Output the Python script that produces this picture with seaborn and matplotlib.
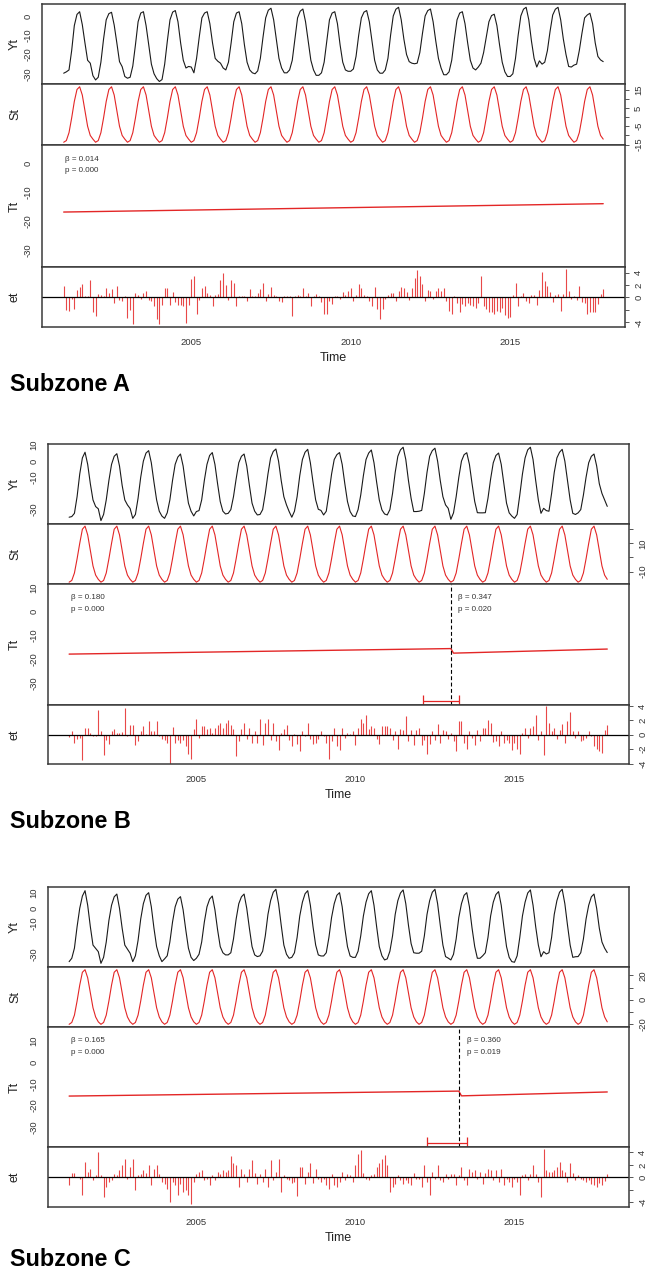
import matplotlib
matplotlib.use("Agg")
import matplotlib.pyplot as plt
import numpy as np
import seaborn as sns

W, H = 646, 1269

YEARS = list(range(2001, 2018))
XTICKS = [2005, 2010, 2015]
XLIM = (2000.32, 2018.6)

# ---------------- Subzone A ----------------
YT_A = [
    -29.7, -29.0, -28.0, -18.0, -5.0, 0.8, 2.2, -4.5, -14.0, -23.0, -24.5, -31.0,
    -33.2, -31.8, -24.0, -12.0, -2.0, 1.2, 1.9, -4.7, -14.0, -23.7, -26.3, -31.4,
    -32.3, -31.8, -26.0, -15.0, -3.0, 1.5, 2.2, -5.0, -15.0, -25.0, -30.0, -32.5,
    -34.0, -33.0, -25.0, -13.0, -2.0, 2.0, 2.8, -3.0, -14.0, -23.0, -27.0, -26.2,
    -26.5, -29.5, -22.0, -11.0, -1.0, 1.5, 2.2, -4.0, -14.0, -22.0, -23.5, -24.5,
    -27.0, -28.0, -24.0, -14.0, -3.0, 1.5, 2.2, -4.0, -15.0, -24.0, -28.0, -29.5,
    -30.0, -28.5, -22.0, -11.0, -1.0, 3.0, 4.0, -2.0, -12.0, -22.0, -27.0, -29.5,
    -29.5, -28.0, -23.0, -12.0, -1.0, 2.5, 3.6, -3.0, -13.0, -23.0, -28.0, -30.8,
    -30.8, -29.5, -24.0, -13.0, -2.0, 1.5, 2.2, -4.0, -15.0, -24.0, -28.0, -28.7,
    -28.7, -27.5, -21.0, -10.0, -1.0, 2.0, 2.8, -3.0, -13.0, -23.0, -28.0, -29.7,
    -29.7, -28.0, -22.0, -10.0, 0.0, 3.5, 4.5, -2.0, -12.0, -20.0, -23.7, -24.5,
    -24.8, -24.5, -19.0, -9.0, 0.0, 2.8, 3.6, -3.0, -13.0, -22.0, -27.0, -30.5,
    -30.5, -29.0, -23.0, -12.0, -2.0, 1.5, 2.2, -4.0, -14.0, -23.0, -27.0, -28.0,
    -26.5, -24.5, -19.0, -11.0, -3.0, 0.2, 0.9, -5.0, -15.0, -24.0, -29.0, -31.4,
    -31.4, -30.0, -22.0, -10.0, 0.0, 3.5, 4.5, -2.0, -13.0, -22.0, -26.5, -23.3,
    -25.0, -24.0, -18.0, -8.0, 0.5, 3.5, 4.5, -2.0, -12.0, -20.0, -26.2, -26.5,
    -25.5, -25.0, -18.0, -9.0, -1.0, 0.5, 1.4, -4.0, -14.0, -21.0, -22.8, -23.7,
]
ST_A = [-13.7, -12.8, -8.5, -0.5, 8.5, 15.0, 16.5, 12.0, 3.5, -5.0, -10.0, -12.0]
TT_A_X = [2001.0, 2017.917]
TT_A_Y = [-16.9, -14.0]
ET_A = [
    1.8, -2.0, -2.2, -0.3, -1.8, 1.2, 1.7, 2.1, 0.3, 0.3, 2.8, -2.4,
    -3.0, 0.6, 0.4, 0.2, 1.6, 0.8, 1.3, -0.9, 1.9, -0.4, -0.6, 0.3,
    -3.3, -2.0, -4.3, 0.7, 0.4, -0.3, 0.8, 1.0, -0.4, -0.6, -1.4, -3.5,
    -4.3, -1.2, 1.5, 1.6, -1.2, 0.9, -0.8, -1.2, -1.2, -1.3, -4.1, -1.2,
    2.9, 3.4, -2.7, -0.4, 1.5, 1.8, 0.7, 0.4, -1.3, 0.4, 0.6, 2.8,
    4.0, 2.0, -0.4, 2.8, 2.4, -1.4, 0.2, 0.3, 0.2, -0.5, 1.3, 0.2,
    0.2, 0.7, 1.3, 2.3, -0.6, 0.6, 1.7, 0.4, 0.2, -0.5, -0.8, 0.2,
    0.2, 0.2, -2.9, 0.2, 0.4, 0.3, 1.5, 0.2, 0.7, -1.4, 0.2, 0.6,
    0.2, -0.7, -2.7, -2.7, -0.5, -1.0, 0.3, 0.2, -0.3, 0.9, 0.4, 1.1,
    1.6, -0.6, 0.4, 2.2, 1.6, 0.4, 0.3, -0.6, -1.3, 1.7, -1.9, -3.4,
    -1.9, -0.3, 0.4, 0.8, 0.8, -0.5, 1.0, 1.7, 1.5, 0.9, -0.4, 1.5,
    3.2, 4.4, 3.4, 2.1, -0.5, 1.2, 1.0, -0.3, 1.0, 1.6, 1.0, 1.6,
    -0.6, -2.1, -2.7, 0.2, -0.9, -2.4, -1.1, -1.3, -0.9, -1.2, -1.4, -1.7,
    -0.9, 3.5, -1.4, -1.9, -2.4, -2.4, -2.6, -2.2, -2.4, -1.7, -2.8, -3.3,
    -3.1, 0.4, 2.3, -1.4, 0.2, 0.8, -0.6, -0.9, 0.4, 0.4, -1.2, 1.2,
    4.1, 2.6, 1.9, 0.9, -0.7, 0.4, 0.6, -2.2, 0.6, 4.5, 1.0, -0.3,
    0.3, -0.4, 1.8, -0.8, -0.9, -2.7, -2.4, -2.4, -2.3, -1.0, 0.6, 1.4,
]
STATS_A = [(2001.05, "\u03b2 = 0.014", "p = 0.000")]
BREAK_A = None

# ---------------- Subzone B ----------------
YT_B = [
    -34.7, -34.3, -32.3, -22.0, -8.0, 2.0, 5.5, -2.0, -14.0, -24.0, -28.1, -29.5,
    -36.8, -33.0, -24.0, -12.0, -2.0, 3.0, 4.6, -3.0, -15.0, -24.0, -27.1, -29.3,
    -35.4, -33.0, -23.0, -10.0, 0.0, 5.0, 6.5, -1.0, -13.0, -24.0, -31.0, -34.0,
    -35.4, -32.0, -24.0, -12.0, -2.0, 2.5, 4.4, -3.0, -15.0, -26.0, -31.0, -33.9,
    -31.2, -30.6, -24.0, -12.0, -2.0, 3.5, 5.3, -2.0, -14.0, -25.0, -31.0, -32.7,
    -32.3, -30.0, -22.0, -11.0, -1.0, 3.0, 4.4, -3.0, -15.0, -26.0, -31.0, -33.3,
    -33.0, -30.0, -20.0, -8.0, 2.0, 6.0, 7.5, 0.0, -12.0, -22.0, -27.1, -31.2,
    -34.7, -31.0, -22.0, -9.0, 1.0, 5.5, 7.3, -1.0, -13.0, -24.0, -29.8, -30.5,
    -33.3, -31.0, -20.0, -8.0, 1.0, 4.0, 5.3, -2.0, -14.0, -25.0, -31.2, -33.9,
    -34.3, -30.0, -21.0, -9.0, 1.0, 5.0, 6.9, -1.0, -13.0, -24.0, -30.2, -32.7,
    -33.3, -30.0, -20.0, -7.0, 3.0, 7.0, 8.6, 1.0, -12.0, -23.0, -31.2, -31.2,
    -31.0, -30.5, -20.0, -7.0, 3.0, 6.5, 8.0, 0.0, -12.0, -22.0, -27.1, -29.2,
    -36.0, -32.0, -22.0, -10.0, 0.0, 4.0, 5.2, -2.0, -14.0, -25.0, -31.9, -32.0,
    -32.0, -31.9, -23.0, -11.0, -1.0, 3.5, 5.0, -2.0, -14.0, -26.0, -32.0, -34.0,
    -35.4, -33.0, -21.0, -8.0, 2.0, 7.0, 8.6, 1.0, -12.0, -24.0, -32.3, -29.2,
    -30.6, -31.0, -20.0, -7.0, 2.0, 5.5, 7.3, 0.0, -12.0, -24.0, -32.3, -33.0,
    -32.0, -30.0, -21.0, -10.0, -1.0, 3.0, 4.4, -3.0, -14.0, -20.0, -24.0, -28.0,
]
ST_B = [-17.5, -16.3, -11.0, -1.0, 10.0, 20.0, 22.2, 16.0, 5.0, -6.0, -12.5, -15.5]
TT_B_X = [2001.0, 2013.0, 2013.083, 2017.917]
TT_B_Y = [-17.8, -15.5, -17.4, -15.7]
ET_B = [
    -0.3, 0.6, -1.2, -0.6, -0.5, -3.5, 0.9, 0.9, 0.2, -0.2, -0.2, 3.5,
    0.5, -2.8, -0.7, -1.3, 0.6, 0.8, 0.2, 0.2, 0.4, 3.7, -0.2, 1.4,
    1.3, -1.4, -0.9, 0.5, 1.2, 0.1, 1.9, 0.5, 0.6, 1.9, -0.2, -0.6,
    -0.7, -1.2, -4.0, 1.1, -1.2, -0.7, -1.2, -0.7, -1.6, -2.6, -3.3, 0.8,
    2.2, -0.5, 1.2, 1.2, 0.8, 0.9, 0.2, 1.0, 1.3, 1.6, 0.9, 1.7,
    2.0, 1.3, 0.8, -3.0, -0.9, 0.8, 1.6, -0.6, 0.9, -1.1, 0.5, -1.1,
    2.2, -1.4, 1.6, 2.2, -0.7, 1.6, -0.9, -2.1, 0.3, 0.8, 1.3, -0.7,
    -1.6, 0.1, -1.3, -2.3, 0.5, -0.1, 1.6, -0.6, -1.3, -1.2, -0.6, 0.5,
    -0.2, -1.2, -3.3, -0.9, 0.9, -1.5, -2.1, 0.9, -0.5, 0.2, 0.1, 0.5,
    -1.4, 0.9, 2.2, 1.7, 2.8, 0.8, 1.2, 0.9, -0.6, -1.3, 1.2, 1.2,
    1.2, 0.9, -0.7, 0.5, -2.0, 0.8, 0.7, 2.6, -0.9, 0.7, -1.4, 0.7,
    0.9, -1.4, -0.7, -2.6, -1.3, 0.6, -0.7, 1.5, -1.2, 0.7, 0.5, -0.6,
    0.2, -0.9, -2.3, 1.9, 1.9, -1.2, -1.9, 0.5, -0.5, -1.4, 0.7, -0.8,
    0.9, 0.9, 2.1, 1.6, -1.0, -0.8, -1.6, 0.5, -1.2, -0.7, -1.2, -2.1,
    -1.2, -1.9, -2.6, 0.2, 0.9, -0.5, 0.9, 1.2, 2.8, -0.7, 0.6, -2.8,
    4.0, 1.6, 0.5, 0.9, -0.6, 0.7, 1.5, -1.2, 1.9, 3.1, 0.5, -0.5,
    0.5, -0.9, -0.7, -0.5, 0.5, -0.2, -1.6, -1.9, -2.3, -2.5, 0.7, 1.3,
]
STATS_B = [(2001.05, "\u03b2 = 0.180", "p = 0.000"),
           (2013.23, "\u03b2 = 0.347", "p = 0.020")]
BREAK_B = (2013.0, 2012.13, 2013.26)

# ---------------- Subzone C ----------------
YT_C = [
    -34.8, -32.6, -26.0, -12.0, 0.0, 8.0, 11.5, 2.0, -12.0, -24.0, -26.1, -28.3,
    -35.9, -32.0, -22.0, -8.0, 2.0, 7.5, 9.3, 0.0, -13.0, -24.0, -26.7, -29.3,
    -34.8, -31.0, -21.0, -7.0, 3.0, 8.5, 10.2, 1.0, -13.0, -25.0, -31.0, -34.8,
    -33.0, -31.0, -22.0, -9.0, 1.0, 6.0, 7.6, -1.0, -14.0, -26.0, -32.0, -34.1,
    -32.6, -30.0, -22.0, -9.0, 1.0, 6.0, 8.0, -1.0, -14.0, -25.0, -29.0, -30.4,
    -30.4, -29.0, -20.0, -7.0, 3.0, 7.5, 9.3, 0.0, -13.0, -25.0, -30.4, -31.5,
    -31.0, -28.0, -18.0, -4.0, 5.0, 10.5, 12.4, 3.0, -11.0, -24.0, -30.0, -32.6,
    -32.0, -29.0, -19.0, -5.0, 4.0, 9.5, 11.5, 2.0, -12.0, -24.0, -30.4, -31.1,
    -31.1, -29.0, -19.0, -6.0, 3.0, 8.5, 10.2, 1.0, -13.0, -25.0, -31.1, -32.0,
    -32.0, -28.0, -18.0, -5.0, 4.0, 9.5, 11.5, 2.0, -12.0, -25.0, -31.0, -33.7,
    -33.0, -28.0, -18.0, -4.0, 5.0, 10.0, 12.0, 3.0, -11.0, -23.0, -29.0, -29.3,
    -29.3, -28.0, -18.0, -4.0, 5.0, 10.5, 12.4, 3.0, -11.0, -24.0, -31.5, -32.5,
    -33.7, -30.0, -20.0, -6.0, 3.0, 8.5, 10.2, 1.0, -13.0, -25.0, -32.6, -32.6,
    -31.0, -29.0, -19.0, -5.0, 4.0, 9.0, 10.9, 2.0, -12.0, -25.0, -32.0, -34.8,
    -35.2, -31.0, -19.0, -5.0, 4.0, 10.0, 12.0, 2.0, -12.0, -24.0, -31.6, -28.3,
    -29.8, -29.0, -19.0, -4.0, 5.0, 10.5, 12.4, 3.0, -11.0, -24.0, -32.0, -31.6,
    -31.5, -29.0, -20.0, -7.0, 2.0, 7.5, 9.3, 0.0, -13.0, -22.0, -26.0, -28.9,
]
ST_C = [-20.0, -18.5, -12.5, -1.0, 12.0, 22.5, 24.6, 18.0, 6.0, -6.5, -14.0, -18.0]
TT_C_X = [2001.0, 2013.25, 2013.333, 2017.917]
TT_C_Y = [-15.6, -13.3, -15.5, -13.7]
ET_C = [
    -1.2, 0.7, 0.7, 0.0, -0.2, -2.9, 2.4, 0.8, 1.4, -0.5, 0.3, 4.1,
    0.3, -3.2, -1.6, -0.8, -0.4, 0.6, 0.3, 1.1, 1.9, 2.9, -0.2, 1.6,
    3.0, -2.1, 0.4, 0.5, 1.1, 0.7, 1.9, -1.3, 1.3, 1.9, 0.5, -0.8,
    -1.1, -1.9, -4.0, -0.7, -1.3, -2.9, -1.1, -2.4, -2.0, -2.9, -4.3, -0.8,
    0.5, 0.8, 1.1, -0.4, -0.3, -1.3, 0.3, -0.4, 0.9, 0.6, 1.1, 0.9,
    1.1, 3.4, 2.3, 2.0, -1.6, 1.3, 0.5, -0.8, 1.3, 2.8, 0.7, -1.1,
    0.5, -0.8, 1.3, -1.6, 2.8, -0.5, 0.8, 2.9, -2.4, 0.3, -0.3, -0.5,
    -0.9, -0.7, -3.0, 1.7, 1.6, -1.1, 0.8, 2.3, -0.9, 1.3, -0.3, -0.8,
    -0.3, -1.2, -1.9, 0.5, -1.3, -1.6, -0.8, 0.9, -0.5, 0.5, 0.3, -0.8,
    1.9, 3.7, 4.3, 0.7, -0.3, -0.5, 0.3, 0.5, 1.7, 2.3, 2.9, 3.5,
    1.9, -2.4, -1.6, -1.1, 0.4, -0.4, -1.1, -0.5, -0.9, -1.3, 0.7, -0.3,
    -0.3, -1.6, 1.9, -0.8, -2.9, 0.8, -0.3, 1.9, -0.5, -0.8, 0.6, -0.3,
    0.5, 0.6, -1.2, 0.3, 1.6, -0.4, -1.3, 1.3, 0.9, 1.1, -0.3, 0.9,
    -1.1, 0.7, 1.4, 1.1, -0.5, 1.1, -0.8, 1.3, -1.3, -0.2, -0.8, -1.6,
    -0.3, -0.8, -2.9, 0.3, 0.5, -0.5, 0.5, 1.9, 0.5, -0.8, -3.2, 4.5,
    1.1, 0.9, 0.8, 1.1, 1.6, 2.5, 1.1, 0.8, -0.8, 2.3, 0.7, -0.4,
    0.4, -0.3, -0.4, -0.8, -0.5, -1.1, -1.3, -1.6, -0.9, -1.2, -0.6, 0.5,
]
STATS_C = [(2001.05, "\u03b2 = 0.165", "p = 0.000"),
           (2013.5, "\u03b2 = 0.360", "p = 0.019")]
BREAK_C = (2013.25, 2012.24, 2013.50)

# y-axis setup per panel: (ylim, ticks, labels)
YAX_A = {
    "Yt": ((-35.3, 6.2), [-30, -20, -10, 0], ["-30", "-20", "-10", "0"]),
    "St": ((-15.2, 18.0), [-15, -10, -5, 0, 5, 10, 15], ["-15", "", "-5", "", "5", "", "15"]),
    "Tt": ((-36.0, 6.4), [-30, -20, -10, 0], ["-30", "-20", "-10", "0"]),
    "et": ((-4.74, 4.9), [-4, -2, 0, 2, 4], ["-4", "", "0", "2", "4"]),
}
YAX_B = {
    "Yt": ((-38.9, 10.6), [-30, -20, -10, 0, 10], ["-30", "", "-10", "0", "10"]),
    "St": ((-18.8, 23.7), [-10, 0, 10, 20], ["-10", "", "10", ""]),
    "Tt": ((-39.0, 11.4), [-30, -20, -10, 0, 10], ["-30", "-20", "-10", "0", "10"]),
    "et": ((-4.05, 4.14), [-4, -2, 0, 2, 4], ["-4", "-2", "0", "2", "4"]),
}
YAX_C = {
    "Yt": ((-38.3, 13.9), [-30, -20, -10, 0, 10], ["-30", "", "-10", "0", "10"]),
    "St": ((-22.2, 26.8), [-20, -10, 0, 10, 20], ["-20", "", "0", "", "20"]),
    "Tt": ((-39.2, 16.4), [-30, -20, -10, 0, 10], ["-30", "-20", "-10", "0", "10"]),
    "et": ((-4.75, 4.85), [-4, -2, 0, 2, 4], ["-4", "", "0", "2", "4"]),
}

# layout in pixels: left, right, row edges (Yt top .. et bottom), title baseline
LAYOUT = {
    "A": (42, 625, [4, 84, 145, 267, 327], 391),
    "B": (47.5, 629, [444, 524, 584, 705, 764], 828),
    "C": (47.5, 629, [887, 967, 1027, 1147, 1207], 1266),
}

FRAME = "#3a3a3a"
RED = "#e32626"
ET_RED = "#e84848"
TICK_FS = 6.8
LABEL_FS = 9


def add_ax(fig, left, right, top, bottom):
    return fig.add_axes([left / W, 1 - bottom / H, (right - left) / W, (bottom - top) / H])


def style_ax(ax, yax, side, label, left, right, last):
    ylim, ticks, labels = yax
    ax.set_xlim(*XLIM)
    ax.set_ylim(*ylim)
    for sp in ax.spines.values():
        sp.set_color(FRAME)
        sp.set_linewidth(1.1)
    ax.set_yticks(ticks)
    ax.set_yticklabels(labels, rotation=90, va="center", fontsize=TICK_FS, color="#333333")
    if side == "right":
        ax.yaxis.tick_right()
    ax.tick_params(axis="y", direction="out", length=2.6, width=0.6, pad=4.0, color=FRAME)
    ax.set_xticks(XTICKS)
    ax.tick_params(axis="x", direction="out", length=2.6, width=0.6, pad=5,
                   labelsize=TICK_FS, labelbottom=last, labelcolor="#333333", color=FRAME)
    ax.set_ylabel(label, fontsize=LABEL_FS, color="#222222")
    ax.yaxis.label.set_va("center")
    ax.yaxis.set_label_coords((15 - left) / (right - left), 0.5)
    ax.set_xlabel("")
    ax.grid(False)


def draw_panel(fig, key, yt, st_cycle, tt_x, tt_y, et, yax, stats, brk):
    left, right, rows, title_y = LAYOUT[key]
    time = [y + m / 12 for y in YEARS for m in range(12)]
    st = list(np.tile(st_cycle, len(YEARS)))

    ax_y = add_ax(fig, left, right, rows[0], rows[1])
    ax_s = add_ax(fig, left, right, rows[1], rows[2])
    ax_t = add_ax(fig, left, right, rows[2], rows[3])
    ax_e = add_ax(fig, left, right, rows[3], rows[4])

    sns.lineplot(x=time, y=yt, ax=ax_y, color="#1a1a1a", linewidth=0.8, estimator=None)
    sns.lineplot(x=time, y=st, ax=ax_s, color=RED, linewidth=0.8, estimator=None)
    sns.lineplot(x=tt_x, y=tt_y, ax=ax_t, color=RED, linewidth=1.0, estimator=None)
    ax_e.vlines(time, 0, et, color=ET_RED, linewidth=0.8)
    ax_e.axhline(0, color="black", linewidth=0.9)

    style_ax(ax_y, yax["Yt"], "left", "Yt", left, right, False)
    style_ax(ax_s, yax["St"], "right", "St", left, right, False)
    style_ax(ax_t, yax["Tt"], "left", "Tt", left, right, False)
    style_ax(ax_e, yax["et"], "right", "et", left, right, True)

    tr = ax_t.get_xaxis_transform()
    for x, beta, pval in stats:
        ax_t.text(x, 0.885, beta, transform=tr, fontsize=5.8, color="#333333",
                  va="center", ha="left")
        ax_t.text(x, 0.787, pval, transform=tr, fontsize=5.8, color="#333333",
                  va="center", ha="left")

    if brk is not None:
        bx, lo, hi = brk
        ax_t.axvline(bx, color="black", linewidth=0.8, linestyle=(0, (3.5, 2.2)))
        ylo = yax["Tt"][0][0]
        ybar = ylo + 0.03 * (yax["Tt"][0][1] - ylo)
        ax_t.errorbar([(lo + hi) / 2], [ybar], xerr=[[(hi - lo) / 2], [(hi - lo) / 2]],
                      fmt="none", ecolor=RED, elinewidth=0.9, capsize=4.0, capthick=0.9)

    ax_e.set_xlabel("Time", fontsize=LABEL_FS, color="#222222")
    ax_e.xaxis.label.set_va("center")
    ax_e.xaxis.set_label_coords(0.5, -31 / (rows[4] - rows[3]))

    fig.text(10 / W, 1 - title_y / H, f"Subzone {key}", fontsize=16.8,
             fontweight="bold", ha="left", va="baseline", color="black")


def main():
    sns.set_style("white")
    plt.rcParams["font.family"] = ["Liberation Sans", "DejaVu Sans"]
    fig = plt.figure(figsize=(W / 100, H / 100), dpi=100)
    fig.patch.set_facecolor("white")

    draw_panel(fig, "A", YT_A, ST_A, TT_A_X, TT_A_Y, ET_A, YAX_A, STATS_A, BREAK_A)
    draw_panel(fig, "B", YT_B, ST_B, TT_B_X, TT_B_Y, ET_B, YAX_B, STATS_B, BREAK_B)
    draw_panel(fig, "C", YT_C, ST_C, TT_C_X, TT_C_Y, ET_C, YAX_C, STATS_C, BREAK_C)

    fig.savefig("out.png", dpi=100, facecolor="white")
    plt.close(fig)


if __name__ == "__main__":
    main()
